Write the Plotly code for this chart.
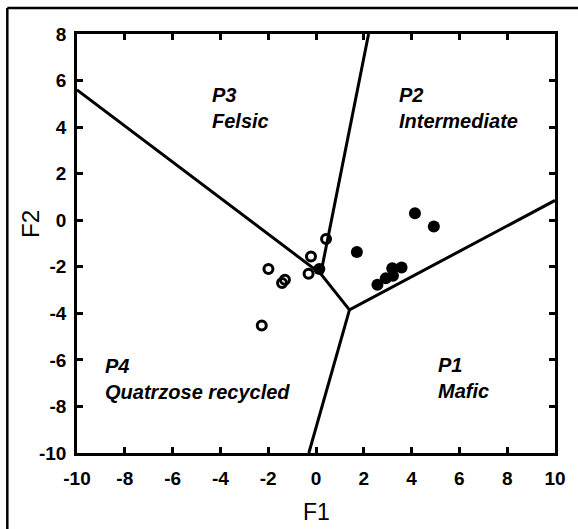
import plotly.graph_objects as go

# Discriminant boundary lines (F1, F2), segments separated by None
boundary_f1 = [-10, 0.2, 1.4, 10, None, 2.2, 0.2, None, 1.4, -0.3]
boundary_f2 = [5.6, -2.3, -3.85, 0.85, None, 8, -2.3, None, -3.85, -10]

# Open-circle samples
open_f1 = [-1.99, -1.30, -1.42, -0.21, -0.31, 0.42, -2.27]
open_f2 = [-2.10, -2.56, -2.70, -1.56, -2.30, -0.81, -4.52]

# Filled-circle samples
filled_f1 = [0.14, 1.71, 4.14, 4.93, 2.57, 2.92, 3.22, 3.19, 3.58]
filled_f2 = [-2.10, -1.37, 0.30, -0.27, -2.77, -2.49, -2.39, -2.06, -2.03]

# Ticks
x_ticks = [-10, -8, -6, -4, -2, 0, 2, 4, 6, 8, 10]
x_labels = ["-10", "-8", "-6", "-4", "-2", "0", "2", "4", "6", "8", "10"]
y_ticks = [-10, -8, -6, -4, -2, 0, 2, 4, 6, 8]
y_labels = ["-10", "-8", "-6", "-4", "-2", "0", "2", "4", "6", "8"]

# Field labels
field_text = ["P3<br>Felsic", "P2<br>Intermediate", "P4<br>Quatrzose recycled", "P1<br>Mafic"]
field_f1 = [-4.45, 3.4, -8.9, 5.0]
field_f2 = [4.8, 4.8, -6.8, -6.78]

FONT = "Liberation Sans, Arial, Helvetica, sans-serif"

fig = go.Figure()
fig.add_trace(go.Scatter(x=boundary_f1, y=boundary_f2, mode="lines",
                         line=dict(color="black", width=3), hoverinfo="skip",
                         showlegend=False))
fig.add_trace(go.Scatter(x=open_f1, y=open_f2, mode="markers",
                         marker=dict(symbol="circle-open", size=9, color="black",
                                     line=dict(color="black", width=3)),
                         showlegend=False))
fig.add_trace(go.Scatter(x=filled_f1, y=filled_f2, mode="markers",
                         marker=dict(symbol="circle", size=12, color="black"),
                         showlegend=False))

axis_common = dict(showgrid=False, zeroline=False, showline=True, linecolor="black",
                   linewidth=2.5, mirror="ticks", ticks="inside", ticklen=6,
                   tickwidth=2.5, tickcolor="black",
                   tickfont=dict(family=FONT, size=19, color="black", weight="bold"))

fig.update_xaxes(range=[-10, 10], tickvals=x_ticks, ticktext=x_labels,
                 ticklabelstandoff=6, **axis_common)
fig.update_yaxes(range=[-10, 8], tickvals=y_ticks, ticktext=y_labels,
                 ticklabelstandoff=4, **axis_common)

annotations = []
for t, x, y in zip(field_text, field_f1, field_f2):
    annotations.append(dict(x=x, y=y, xref="x", yref="y", text="<i>" + t + "</i>",
                            showarrow=False, xanchor="left", yanchor="middle", align="left",
                            font=dict(family=FONT, size=20, color="black", weight="bold")))
annotations.append(dict(x=0.5, y=-0.142, xref="paper", yref="paper", text="F1",
                        showarrow=False, xanchor="center", yanchor="middle",
                        font=dict(family=FONT, size=23, color="black")))
annotations.append(dict(x=-0.096, y=0.547, xref="paper", yref="paper", text="F2",
                        showarrow=False, xanchor="center", yanchor="middle", textangle=-90,
                        font=dict(family=FONT, size=24, color="black")))

fig.update_layout(
    width=578, height=529,
    margin=dict(l=77, r=21, t=34, b=76),
    paper_bgcolor="white", plot_bgcolor="white",
    annotations=annotations,
    shapes=[
        dict(type="line", xref="paper", yref="paper", x0=-0.1458, x1=-0.1458,
             y0=1.062, y1=-0.2, line=dict(color="black", width=2.5)),
        dict(type="line", xref="paper", yref="paper", x0=-0.1458, x1=1.05,
             y0=1.062, y1=1.062, line=dict(color="black", width=2.5)),
    ],
)

fig.write_html("out.html", config={"displayModeBar": False},
               post_script="document.body.style.margin='0';")
